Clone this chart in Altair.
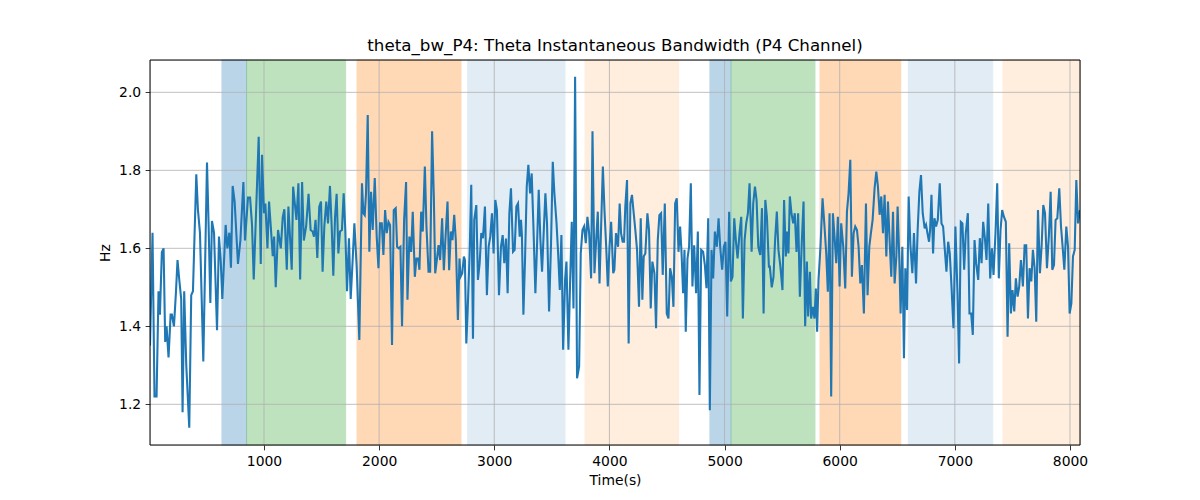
import altair as alt
import pandas as pd

# ---- line data: time (s) and theta bandwidth (Hz) ----
t_a = [10,32,49,67,84,96,113,128,142,154,171,189,200,218,235,249,264,281,293,307,
       325,351,368,383,412,426,444,473,505,519,534,548,566,592,609,624,638,667,682,699,
       713,728,745,774,795,821,835,861,879,896,911,925,954,972,983,1000,1012,1030,1044,1059,
       1076,1088,1102,1122,1146,1163,1177,1198,1212,1241,1253,1282,1299,1314,1331,1346,1366]
v_a = [1.35,1.64,1.22,1.22,1.49,1.43,1.59,1.60,1.36,1.40,1.32,1.43,1.43,1.40,1.485,1.57,1.52,1.47,1.18,1.49,
       1.30,1.14,1.48,1.49,1.79,1.70,1.64,1.31,1.82,1.66,1.46,1.67,1.64,1.39,1.63,1.57,1.47,1.66,1.60,1.64,
       1.55,1.76,1.72,1.56,1.62,1.77,1.62,1.73,1.73,1.66,1.52,1.64,1.886,1.56,1.84,1.69,1.715,1.60,1.72,1.656,
       1.58,1.63,1.50,1.647,1.60,1.68,1.70,1.545,1.707,1.545,1.758,1.673,1.767,1.52,1.77,1.62,1.656]

t_b = [1387,1405,1422,1434,1448,1463,1480,1495,1509,1524,1541,1556,1573,1588,1602,1617,1631,1646,1660,1677,
       1692,1706,1721,1738,1753,1770,1785,1805,1828,1851,1863,1875,1886,1901,1915,1930,1944,1962,1979,1994,
       2008,2023,2037,2052,2066,2081,2095,2112,2127,2144,2156,2170,2185,2199,2217,2234,2246,2263,2278,2292,
       2310,2324,2339,2350,2365,2379,2397,2411,2429,2443,2460,2475,2487,2501,2516,2530,2547,2562,2576,2594,
       2608,2623,2637,2652,2666,2684,2698]
v_b = [1.74,1.647,1.643,1.63,1.673,1.575,1.707,1.72,1.54,1.656,1.72,1.664,1.76,1.656,1.53,1.68,1.74,1.587,1.643,1.647,
       1.741,1.647,1.49,1.626,1.47,1.57,1.664,1.553,1.365,1.767,1.69,1.685,1.741,1.942,1.591,1.745,1.647,1.78,1.63,1.549,
       1.664,1.664,1.583,1.698,1.639,1.668,1.66,1.352,1.698,1.703,1.604,1.60,1.604,1.40,1.673,1.77,1.468,1.63,1.591,1.694,
       1.527,1.574,1.574,1.545,1.694,1.643,1.81,1.656,1.54,1.54,1.90,1.732,1.536,1.57,1.608,1.57,1.677,1.544,1.625,1.72,
       1.544,1.643,1.621,1.686,1.62,1.416,1.574]

t_c = [2707,2722,2736,2745,2757,2768,2786,2800,2815,2826,2844,2858,2873,2887,2902,2919,2936,2951,2965,2980,
       2994,3009,3023,3041,3058,3073,3087,3102,3116,3131,3145,3163,3177,3192,3206,3221,3232,3240,3253,3267,
       3282,3296,3311,3325,3340,3357,3371,3386,3400,3415,3429,3444,3458,3476,3493,3508,3522,3540,3554,3569,
       3583,3598,3615,3627,3644,3659,3673,3688,3702,3719,3737,3751,3766,3780,3795,3809,3824,3841,3853,3870,
       3885,3899,3914,3928,3943,3957,3972,3986,4001,4015,4033]
v_c = [1.527,1.536,1.579,1.57,1.356,1.433,1.587,1.763,1.368,1.673,1.711,1.519,1.562,1.639,1.626,1.707,1.48,1.604,1.63,1.69,
       1.587,1.724,1.698,1.48,1.604,1.634,1.562,1.625,1.485,1.69,1.754,1.591,1.596,1.707,1.715,1.63,1.673,1.634,1.43,1.57,
       1.758,1.814,1.741,1.792,1.656,1.485,1.604,1.75,1.626,1.54,1.639,1.741,1.664,1.438,1.613,1.822,1.741,1.668,1.591,1.493,
       1.634,1.34,1.519,1.566,1.34,1.519,1.668,1.446,2.04,1.267,1.297,1.587,1.647,1.656,1.613,1.681,1.639,1.523,1.90,1.536,
       1.621,1.694,1.51,1.656,1.81,1.698,1.604,1.502,1.604,1.668,1.536]

t_d = [4043,4057,4075,4089,4101,4115,4127,4138,4153,4167,4182,4196,4211,4225,4240,4257,4272,4286,4298,4312,
       4330,4344,4359,4373,4391,4405,4420,4434,4449,4463,4481,4498,4513,4527,4542,4556,4571,4585,4600,4614,
       4626,4640,4652,4663,4678,4692,4707,4721,4736,4753,4768,4782,4797,4814,4829,4843,4858,4872,4887,4901,
       4916,4933,4948,4962,4979,4994,5008,5023,5040,5055,5069,5084,5098,5113,5130,5145,5159,5174,5188,5203,
       5217,5235,5249,5264,5278,5293,5310,5325,5339,5354,5368,5385]
v_d = [1.545,1.639,1.604,1.715,1.639,1.617,1.617,1.707,1.775,1.356,1.715,1.737,1.69,1.647,1.596,1.45,1.677,1.468,1.579,1.587,
       1.69,1.647,1.446,1.566,1.536,1.395,1.621,1.685,1.69,1.532,1.715,1.433,1.42,1.549,1.527,1.45,1.715,1.728,1.591,1.656,
       1.591,1.485,1.596,1.386,1.574,1.604,1.767,1.502,1.608,1.485,1.643,1.224,1.596,1.591,1.557,1.498,1.677,1.185,1.596,1.523,
       1.643,1.604,1.677,1.604,1.545,1.604,1.617,1.425,1.694,1.515,1.527,1.677,1.621,1.574,1.639,1.681,1.42,1.621,1.664,1.69,
       1.767,1.591,1.715,1.758,1.724,1.604,1.583,1.703,1.433,1.724,1.681,1.553]

t_e = [5393,5410,5425,5439,5454,5468,5485,5503,5517,5532,5543,5555,5567,5581,5596,5610,5625,5639,5654,5671,
       5686,5700,5715,5726,5741,5752,5767,5781,5793,5804,5816,5833,5851,5868,5883,5897,5912,5926,5941,5955,
       5970,5984,5999,6013,6031,6048,6063,6077,6092,6106,6121,6135,6150,6164,6179,6193,6210,6228,6242,6257,
       6271,6286,6303,6318,6332,6347,6361,6376,6390,6405,6419,6434,6448,6463,6477,6492,6503,6518,6529,6544,
       6558,6570,6585,6599,6614,6631,6645,6663,6677,6692,6706,6721,6738]
v_e = [1.553,1.50,1.527,1.621,1.694,1.596,1.553,1.493,1.724,1.579,1.643,1.587,1.733,1.69,1.664,1.69,1.591,1.69,1.476,1.617,
       1.72,1.40,1.566,1.425,1.54,1.42,1.45,1.42,1.497,1.386,1.519,1.604,1.728,1.656,1.587,1.489,1.69,1.22,1.69,1.63,
       1.562,1.681,1.502,1.664,1.604,1.497,1.694,1.741,1.827,1.527,1.639,1.656,1.647,1.604,1.51,1.557,1.433,1.715,1.48,1.604,
       1.639,1.673,1.754,1.797,1.758,1.686,1.733,1.639,1.737,1.579,1.72,1.617,1.527,1.694,1.51,1.579,1.707,1.57,1.433,1.604,
       1.318,1.549,1.442,1.733,1.608,1.536,1.639,1.51,1.647,1.745,1.788,1.69,1.651]

t_f = [6750,6762,6776,6785,6797,6811,6823,6837,6852,6869,6884,6898,6913,6927,6942,6956,6971,6988,7005,7023,
       7037,7052,7066,7081,7095,7113,7127,7142,7156,7171,7185,7203,7217,7232,7246,7261,7275,7290,7307,7322,
       7336,7353,7368,7382,7397,7411,7426,7443,7458,7472,7487,7501,7516,7530,7545,7559,7574,7591,7606,7620,
       7635,7649,7664,7678,7693,7707,7722,7739,7754,7768,7783,7800,7817,7832,7846,7861,7875,7890,7907,7922,
       7936,7951,7968,7983,7997,8012,8026,8041,8055,8070,8087]
v_f = [1.66,1.639,1.617,1.647,1.737,1.587,1.677,1.656,1.673,1.767,1.664,1.656,1.596,1.54,1.617,1.587,1.502,1.395,1.656,1.485,
       1.305,1.668,1.664,1.545,1.639,1.69,1.433,1.433,1.378,1.621,1.562,1.519,1.626,1.562,1.668,1.626,1.57,1.715,1.523,1.60,
       1.532,1.639,1.767,1.523,1.647,1.698,1.681,1.668,1.373,1.613,1.433,1.493,1.438,1.523,1.476,1.502,1.57,1.502,1.608,1.608,
       1.42,1.549,1.515,1.596,1.549,1.412,1.698,1.536,1.608,1.711,1.69,1.549,1.634,1.745,1.545,1.557,1.673,1.677,1.754,1.656,
       1.604,1.545,1.656,1.604,1.433,1.459,1.579,1.596,1.775,1.664,1.698]

# ---- shaded intervals ----
span_start = [635, 849, 1808, 2769, 3788, 4873, 5056, 5829, 6596, 7418]
span_end = [849, 1709, 2711, 3614, 4601, 5056, 5785, 6530, 7329, 8087]
span_kind = ["A", "B", "C", "D", "E", "A", "B", "C", "D", "E"]

x_ticks = [1000, 2000, 3000, 4000, 5000, 6000, 7000, 8000]
y_ticks = [1.2, 1.4, 1.6, 1.8, 2.0]
x_domain = [10, 8087]
y_domain = [1.0957, 2.0829]

times = t_a + t_b + t_c + t_d + t_e + t_f
values = v_a + v_b + v_c + v_d + v_e + v_f
assert len(times) == len(values)

line_df = pd.DataFrame({"t": times, "v": values})
span_df = pd.DataFrame({"start": span_start, "end": span_end, "kind": span_kind})
xg_df = pd.DataFrame({"t": x_ticks})
yg_df = pd.DataFrame({"v": y_ticks})
xframe_df = pd.DataFrame({"t": x_domain})
yframe_df = pd.DataFrame({"v": y_domain})

FONT = "DejaVu Sans"
xscale = alt.Scale(domain=x_domain, nice=False, zero=False)
yscale = alt.Scale(domain=y_domain, nice=False, zero=False)

common_axis = dict(grid=False, domain=False, tickColor="black", tickSize=4.86, tickWidth=0.8,
                   labelFont=FONT, labelFontSize=13.9, labelColor="black", labelPadding=4.5,
                   titleFont=FONT, titleFontSize=13.9, titleFontWeight="normal", titleColor="black")
x_axis = alt.Axis(values=x_ticks, format="d", titlePadding=5, **common_axis)
y_axis = alt.Axis(values=y_ticks, format=".1f", titlePadding=6, **common_axis)

kinds = ["A", "B", "C", "D", "E"]
kind_colors = ["#1f77b4", "#2ca02c", "#ff7f0e", "#1f77b4", "#ff7f0e"]
color_scale = alt.Scale(domain=kinds, range=kind_colors)

def span_layer(selected, alpha):
    return alt.Chart(span_df).transform_filter(
        alt.FieldOneOfPredicate(field="kind", oneOf=selected)
    ).mark_rect(strokeWidth=1, opacity=alpha).encode(
        x=alt.X("start:Q", scale=xscale, axis=x_axis, title="Time(s)"),
        x2="end:Q",
        color=alt.Color("kind:N", legend=None, scale=color_scale),
        stroke=alt.Stroke("kind:N", legend=None, scale=color_scale),
    )

spans_strong = span_layer(["A", "B", "C"], 0.3)
spans_light = span_layer(["D", "E"], 0.13)

xgrid = alt.Chart(xg_df).mark_rule(color="#b0b0b0", strokeWidth=0.8).encode(
    x=alt.X("t:Q", scale=xscale, axis=x_axis, title="Time(s)")
)
ygrid = alt.Chart(yg_df).mark_rule(color="#b0b0b0", strokeWidth=0.8).encode(
    y=alt.Y("v:Q", scale=yscale, axis=y_axis, title="Hz")
)

line = alt.Chart(line_df).mark_line(color="#1f77b4", strokeWidth=2.08, clip=True).encode(
    x=alt.X("t:Q", scale=xscale, axis=x_axis, title="Time(s)"),
    y=alt.Y("v:Q", scale=yscale, axis=y_axis, title="Hz"),
)

# black spines on all four sides, drawn above the shading
xframe = alt.Chart(xframe_df).mark_rule(color="black", strokeWidth=1).encode(
    x=alt.X("t:Q", scale=xscale, axis=x_axis, title="Time(s)")
)
yframe = alt.Chart(yframe_df).mark_rule(color="black", strokeWidth=1).encode(
    y=alt.Y("v:Q", scale=yscale, axis=y_axis, title="Hz")
)

chart = alt.layer(spans_strong, spans_light, xgrid, ygrid, line, xframe, yframe).properties(
    width=930,
    height=385,
    title=alt.TitleParams(
        "theta_bw_P4: Theta Instantaneous Bandwidth (P4 Channel)",
        font=FONT, fontSize=16.7, fontWeight="normal", color="black",
        baseline="alphabetic", offset=9, dy=17,
    ),
    autosize=alt.AutoSizeParams(type="none"),
    padding={"left": 142, "top": 52, "right": 112, "bottom": 47},
).configure_view(
    stroke="black", strokeWidth=1
).configure(background="white")

chart.save("out.html", embed_options={"renderer": "svg", "actions": False})
